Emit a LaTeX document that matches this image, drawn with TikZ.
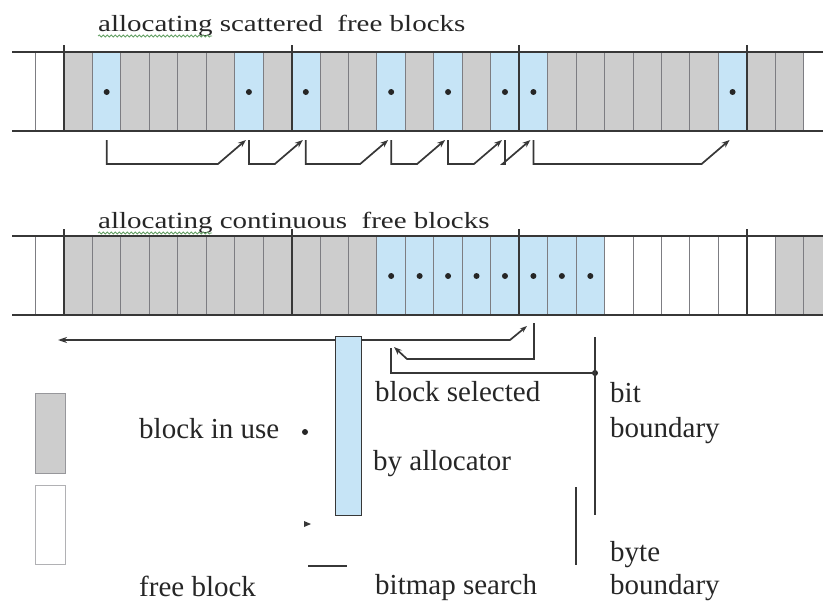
\documentclass[tikz,border=0pt]{standalone}
\usepackage{fontspec}
\setmainfont{Liberation Serif}
\usetikzlibrary{arrows.meta,decorations.pathmorphing}
\definecolor{belegt}{RGB}{205,205,205}
\definecolor{gewaehlt}{RGB}{198,228,246}
\definecolor{strich}{RGB}{55,55,55}
\definecolor{teiler}{RGB}{125,125,130}
\definecolor{kringel}{RGB}{100,160,100}
\def\cw{28.45}
\begin{document}
\begin{tikzpicture}[x=1pt, y=-1pt,
  every node/.style={font=\fontsize{29}{31}\selectfont, text=black!85, inner sep=0pt},
  punkt/.style={circle, fill=black!85, minimum size=6pt},
  suchlinie/.style={draw=strich, line width=1.7pt},
  suchpfeil/.style={suchlinie, -{Stealth[length=8pt,width=6pt]}},
  teilstrich/.style={teiler, line width=1pt},
  bytestrich/.style={strich, line width=2pt},
  bandstrich/.style={strich, line width=2pt},
  grenze/.style={strich, line width=1.8pt},
  legkasten/.style={draw=teiler!80, line width=1pt, minimum width=30pt, anchor=north west},
  beschr/.style={anchor=base west}]
  \useasboundingbox (0,0) rectangle (823,605);
  \clip (0,0) rectangle (823,605);
  % Ueberschriften
  \node[beschr] (titelA) at (98,31) {\scalebox{1}[0.8]{allocating scattered~ free blocks}};
  \node[beschr] (titelB) at (98,228) {\scalebox{1}[0.8]{allocating continuous~ free blocks}};
  \draw[kringel, line width=0.8pt, decorate, decoration={snake, amplitude=1pt, segment length=4pt}] (98,36) -- (212,36);
  \draw[kringel, line width=0.8pt, decorate, decoration={snake, amplitude=1pt, segment length=4pt}] (98,233) -- (212,233);
  % Band 1: belegte und gewaehlte Bloecke
  \foreach \i in {0,2,3,4,5,7,9,10,12,14,17,18,19,20,21,22,24,25}
    \fill[belegt] ({64+\i*\cw},52) rectangle ++(\cw,79);
  \foreach \i in {1,6,8,11,13,15,16,23}
    \fill[gewaehlt] ({64+\i*\cw},52) rectangle ++(\cw,79);
  % Band 2: zusammenhaengender Bereich
  \foreach \i in {0,1,2,3,4,5,6,7,8,9,10,25,26}
    \fill[belegt] ({64+\i*\cw},236) rectangle ++(\cw,79);
  \foreach \i in {11,...,18}
    \fill[gewaehlt] ({64+\i*\cw},236) rectangle ++(\cw,79);
  % Blockgrenzen, Bytegrenzen, Randlinien
  \foreach \yo in {52,236}{
    \foreach \i in {-1,...,26}
      \draw[teilstrich] ({64+\i*\cw},\yo) -- ++(0,79);
    \foreach \i in {0,8,16,24}
      \draw[bytestrich] ({64+\i*\cw},\yo-7) -- ++(0,86);
    \draw[bandstrich] (12,\yo) -- (823,\yo) (12,\yo+79) -- (823,\yo+79);
  }
  % Punkte in den gewaehlten Bloecken
  \foreach \i [count=\n] in {1,6,8,11,13,15,16,23}
    \node[punkt] (s\n) at ({64+(\i+0.5)*\cw},92) {};
  \foreach \i [count=\n] in {11,...,18}
    \node[punkt] (k\n) at ({64+(\i+0.5)*\cw},276) {};
  % Suchpfeile Band 1
  \foreach \a/\b in {1/2,2/3,3/4,4/5,5/6,6/7,7/8}
    \draw[suchpfeil] ([yshift=-48pt]s\a.center) -- ++(0,24)
      -- ([xshift=-31pt,yshift=-72pt]s\b.center) -- ([xshift=-3pt,yshift=-48pt]s\b.center);
  % Ruecklauf nach links
  \coordinate (langL) at (58,340);
  \coordinate (langK) at (510,340);
  \coordinate (langR) at (527,326);
  \draw[suchlinie, {Stealth[length=9pt,width=6pt]}-{Stealth[length=7pt,width=5pt]}] (langL) -- (langK) -- (langR);
  % Haken zurueck
  \coordinate (hakenO) at (534,323);
  \coordinate (hakenU) at (534,359);
  \coordinate (hakenL) at (407,359);
  \coordinate (hakenE) at (394,347);
  \draw[suchpfeil] (hakenO) -- (hakenU) -- (hakenL) -- (hakenE);
  % Klammer zur Bitgrenze
  \coordinate (klammerO) at (391,348);
  \coordinate (klammerU) at (391,373);
  \node[punkt] (bitknoten) at (595,373) {};
  \draw[suchlinie] (klammerO) -- (klammerU) -- (bitknoten.center);
  % Bitgrenze und Bytegrenze
  \coordinate (bitO) at (595,337);
  \coordinate (bitU) at (595,515);
  \draw[grenze] (bitO) -- (bitU);
  \coordinate (byteO) at (576,487);
  \coordinate (byteU) at (576,565);
  \draw[grenze] (byteO) -- (byteU);
  % gewaehlter Block (hoch)
  \node[draw=strich, fill=gewaehlt, line width=1.3pt, minimum width=26pt, minimum height=179pt, anchor=north west] (auswahl) at (335,336) {};
  % Legende
  \node[legkasten, fill=belegt, minimum height=80pt] (legBelegt) at (35,393) {};
  \node[legkasten, draw=teiler!60, fill=white, minimum height=79pt] (legFrei) at (35,485) {};
  \node[punkt] (legPunkt) at (305,432) {};
  \fill[strich] (304,521) -- (311,524) -- (304,527) -- cycle;
  \coordinate (legStrichA) at (308,566);
  \coordinate (legStrichB) at (347,566);
  \draw[suchlinie] (legStrichA) -- (legStrichB);
  % Beschriftungen
  \node[beschr] (lblBelegt) at (139,438) {block in use};
  \node[beschr] (lblFrei) at (139,596) {free block};
  \node[beschr] (lblGewaehlt) at (375,401) {block selected};
  \node[beschr] (lblAllok) at (373,470) {by allocator};
  \node[beschr] (lblSuche) at (375,594) {bitmap search};
  \node[beschr] (lblBit) at (610,402) {bit};
  \node[beschr] (lblBitG) at (610,437) {boundary};
  \node[beschr] (lblByte) at (610,561) {byte};
  \node[beschr] (lblByteG) at (610,594) {boundary};
\end{tikzpicture}
\end{document}
